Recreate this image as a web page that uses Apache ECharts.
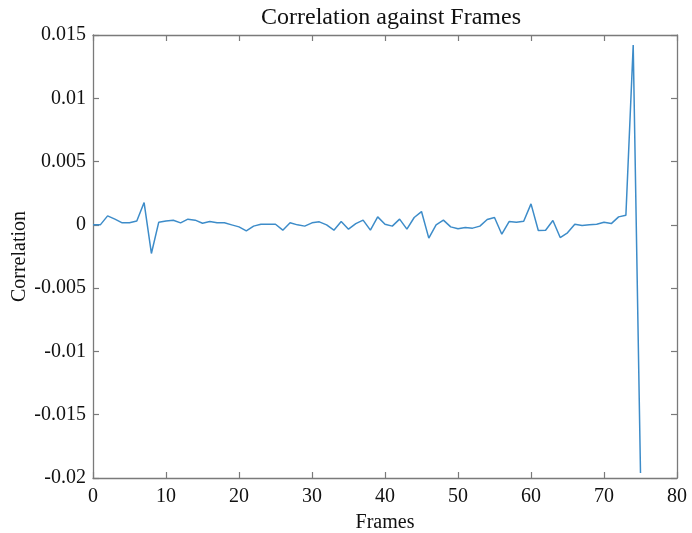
<!DOCTYPE html>
<html><head><meta charset="utf-8">
<script src="https://cdn.jsdelivr.net/npm/echarts@6/dist/echarts.min.js"></script>
<style>html,body{margin:0;padding:0;background:#fff}#c{width:692px;height:533px}</style>
</head><body><div id="c"></div>
<script>
const titleText = "Correlation against Frames";
const xName = "Frames";
const yName = "Correlation";
const frames = [];
for (let i = 0; i <= 75; i++) frames.push(i);
const correlation = [
  0, 0, 0.00071, 0.00045, 0.00016, 0.00016, 0.0003, 0.00176, -0.00226, 0.0002,
  0.0003, 0.00037, 0.00016, 0.00045, 0.00037, 0.00013, 0.00026, 0.00016, 0.00016, 0,
  -0.00016, -0.00047, -0.0001, 0.00005, 0.00005, 0.00005, -0.00042, 0.00016, 0, -0.0001,
  0.00016, 0.00024, 0, -0.00042, 0.00026, -0.00034, 0.0001, 0.00037, -0.00042, 0.00063,
  0.00005, -0.0001, 0.00045, -0.00034, 0.00058, 0.00105, -0.00105, 0, 0.00037, -0.00016,
  -0.0003, -0.0002, -0.00026, -0.0001, 0.00042, 0.00058, -0.00074, 0.00026, 0.0002, 0.00029,
  0.00166, -0.00045, -0.00042, 0.00034, -0.001, -0.00063, 0.00005, -0.00005, 0, 0.00005,
  0.0002, 0.0001, 0.00063, 0.00076, 0.0142, -0.0196
];
const xTicks = { min: 0, max: 80, interval: 10 };
const yTicks = { min: -0.02, max: 0.015, interval: 0.005 };

const font = "Liberation Serif";
const axisGray = "#7a7a7a";
const chart = echarts.init(document.getElementById('c'), null, {renderer: 'canvas'});
function axisStyle(extra) {
  return Object.assign({
    axisLine: {show: true, onZero: false, lineStyle: {color: axisGray, width: 1.3}},
    axisTick: {show: true, inside: true, length: 6, lineStyle: {color: axisGray, width: 1.2}},
    splitLine: {show: false}
  }, extra);
}
chart.setOption({
  animation: false,
  backgroundColor: '#fff',
  title: {text: titleText, left: 386, top: 1, textAlign: 'center',
    textStyle: {fontFamily: font, fontSize: 24, fontWeight: 'normal', color: '#111'}},
  grid: {left: 93, right: 15, top: 35, bottom: 55, containLabel: false, outerBoundsMode: 'none'},
  xAxis: [
    axisStyle({type: 'value', position: 'bottom', min: xTicks.min, max: xTicks.max, interval: xTicks.interval,
      name: xName, nameLocation: 'middle', nameGap: 35, nameMoveOverlap: false,
      nameTextStyle: {fontFamily: font, fontSize: 20, color: '#111'},
      axisLabel: {fontFamily: font, fontSize: 20, color: '#111', margin: 9}}),
    axisStyle({type: 'value', position: 'top', min: xTicks.min, max: xTicks.max, interval: xTicks.interval,
      axisLabel: {show: false}})
  ],
  yAxis: [
    axisStyle({type: 'value', position: 'left', min: yTicks.min, max: yTicks.max, interval: yTicks.interval,
      name: yName, nameLocation: 'middle', nameGap: 63, nameMoveOverlap: false,
      nameTextStyle: {fontFamily: font, fontSize: 20, color: '#111'},
      axisLabel: {fontFamily: font, fontSize: 20, color: '#111', margin: 7,
        formatter: v => { const r = Math.round(v * 1000) / 1000; return r === 0 ? '0' : String(r); }}}),
    axisStyle({type: 'value', position: 'right', min: yTicks.min, max: yTicks.max, interval: yTicks.interval,
      axisLabel: {show: false}})
  ],
  series: [{
    type: 'line', xAxisIndex: 0, yAxisIndex: 0,
    data: frames.map((f, i) => [f, correlation[i]]),
    showSymbol: false, symbol: 'none',
    lineStyle: {color: '#3d8cc9', width: 1.5}
  }]
});
</script></body></html>
